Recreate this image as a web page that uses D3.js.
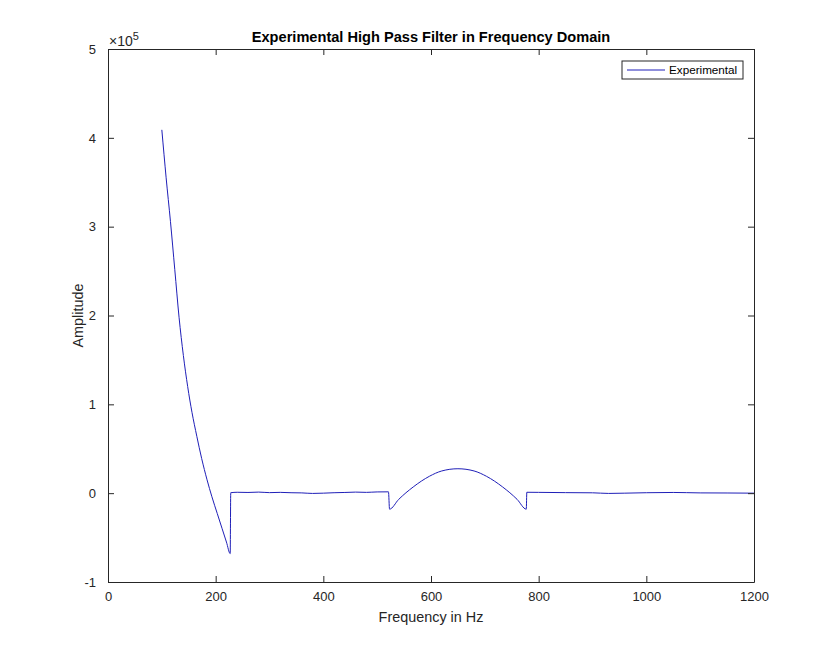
<!DOCTYPE html>
<html>
<head>
<meta charset="utf-8">
<script src="https://cdn.jsdelivr.net/npm/d3@7"></script>
<style>
  body { margin: 0; background: #fff; }
  text { font-family: "Liberation Sans", Arial, Helvetica, sans-serif; fill: #262626; }
</style>
</head>
<body>
<div id="vis"></div>
<script>
// values
var freq = [100, 108, 116, 124, 132, 140, 148, 156, 165, 174, 184, 193, 203, 212, 220, 227,
  228, 240, 260, 280, 300, 320, 340, 360, 380, 400, 420, 440, 460, 480, 500, 521,
  523, 540, 567, 597, 620, 650, 680, 703, 733, 760, 777,
  778, 800, 850, 900, 930, 960, 1000, 1050, 1100, 1150, 1200];
var amplitude = [409000, 355000, 306000, 252000, 198000, 155000, 120000, 91000, 64000, 39000, 15000, -4000, -23000, -40000, -55000, -68000,
  500, 1000, 800, 1200, 600, 900, 500, 300, -300, 0, 500, 800, 1200, 900, 1400, 1500,
  -18000, -7000, 7000, 19000, 25000, 27500, 25000, 19000, 7000, -7000, -18000,
  1000, 900, 600, 400, -300, 0, 500, 800, 300, 200, 0];
var xTicks = [0, 200, 400, 600, 800, 1000, 1200];
var yTicks = [-1, 0, 1, 2, 3, 4, 5];
var seriesName = "Experimental";

const width = 834, height = 655;
const plotLeft = 108, plotRight = 754, plotTop = 49, plotBottom = 582;
const lineColor = "#1f1fb8";

const svg = d3.select("#vis").append("svg").attr("width", width).attr("height", height);

const x = d3.scaleLinear().domain([0, 1200]).range([plotLeft, plotRight]);
const y = d3.scaleLinear().domain([-1e5, 5e5]).range([plotBottom, plotTop]);

// data line
const line = d3.line().x((d, i) => x(freq[i])).y((d, i) => y(amplitude[i])).curve(d3.curveMonotoneX);
svg.append("path")
  .datum(amplitude)
  .attr("d", line)
  .attr("fill", "none")
  .attr("stroke", lineColor)
  .attr("stroke-width", 1);

// axes, matlab style: ticks inward on all four sides
const tickLen = 6;
const axisStyle = g => {
  g.select(".domain").attr("stroke", "#262626");
  g.selectAll(".tick line").attr("stroke", "#262626");
  g.selectAll("text").attr("font-size", 13).style("fill", "#262626");
};

svg.append("g").attr("transform", `translate(0,${plotBottom})`)
  .call(d3.axisBottom(x).tickValues(xTicks).tickFormat(d3.format("d")).tickSizeInner(-tickLen).tickSizeOuter(0).tickPadding(10))
  .call(axisStyle);
svg.append("g").attr("transform", `translate(0,${plotTop})`)
  .call(d3.axisTop(x).tickValues(xTicks).tickFormat("").tickSizeInner(-tickLen).tickSizeOuter(0))
  .call(axisStyle);
svg.append("g").attr("transform", `translate(${plotLeft},0)`)
  .call(d3.axisLeft(y).tickValues(yTicks.map(d => d * 1e5)).tickFormat(d => d / 1e5).tickSizeInner(-tickLen).tickSizeOuter(0).tickPadding(12))
  .call(axisStyle);
svg.append("g").attr("transform", `translate(${plotRight},0)`)
  .call(d3.axisRight(y).tickValues(yTicks.map(d => d * 1e5)).tickFormat("").tickSizeInner(-tickLen).tickSizeOuter(0))
  .call(axisStyle);

svg.selectAll(".domain").attr("stroke-width", 1);

// exponent label
const expo = svg.append("text").attr("x", plotLeft + 1).attr("y", plotTop - 3).attr("font-size", 14);
expo.append("tspan").text("\u00d710");
expo.append("tspan").attr("dy", -6).attr("font-size", 11).text("5");

// title and axis labels
svg.append("text")
  .attr("x", (plotLeft + plotRight) / 2).attr("y", 42)
  .attr("text-anchor", "middle").attr("font-size", 14.6).attr("font-weight", "bold")
  .style("fill", "#000")
  .text("Experimental High Pass Filter in Frequency Domain");

svg.append("text")
  .attr("x", (plotLeft + plotRight) / 2).attr("y", 622)
  .attr("text-anchor", "middle").attr("font-size", 14.4)
  .text("Frequency in Hz");

svg.append("text")
  .attr("transform", `translate(83,${(plotTop + plotBottom) / 2}) rotate(-90)`)
  .attr("text-anchor", "middle").attr("font-size", 14.4)
  .text("Amplitude");

// legend
const lg = svg.append("g").attr("transform", "translate(622,61)");
lg.append("rect").attr("width", 121).attr("height", 18)
  .attr("fill", "#fff").attr("stroke", "#262626").attr("stroke-width", 1);
lg.append("line").attr("x1", 5).attr("x2", 43).attr("y1", 9).attr("y2", 9)
  .attr("stroke", lineColor).attr("stroke-width", 1);
lg.append("text").attr("x", 47).attr("y", 13).attr("font-size", 11.7).style("fill", "#000").text(seriesName);
</script>
</body>
</html>
